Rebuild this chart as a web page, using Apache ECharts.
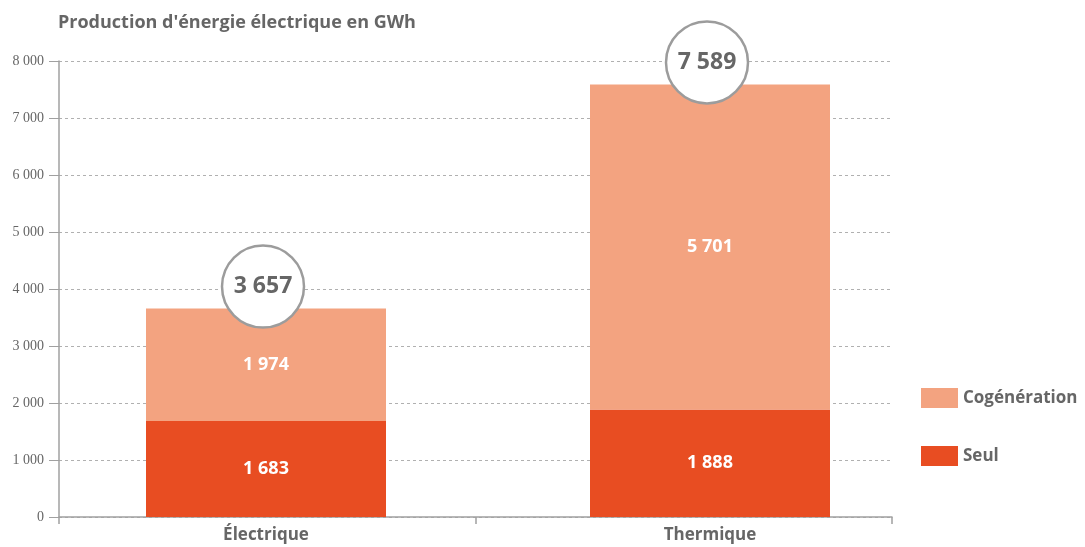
<!DOCTYPE html>
<html>
<head>
<meta charset="utf-8">
<script src="https://cdn.jsdelivr.net/npm/echarts@6/dist/echarts.min.js"></script>
<style>
  html,body{margin:0;padding:0;background:#fff;}
  #main{width:1085px;height:547px;}
</style>
</head>
<body>
<div id="main"></div>
<script>
// données
var categories = ['Électrique', 'Thermique'];
var seul = [1683, 1888];
var cogeneration = [1974, 5701];
var totals = [3657, 7589];
var yTicks = [0, 1000, 2000, 3000, 4000, 5000, 6000, 7000, 8000];

var grey = '#666666';
var font = 'Open Sans';

// format "1 683"
function fmt(n){
  return String(n).replace(/\B(?=(\d{3})+(?!\d))/g, ' ');
}

var myChart = echarts.init(document.getElementById('main'));

var option = {
  animation: false,
  textStyle: { fontFamily: font },
  title: {
    text: "Production d'énergie électrique en GWh",
    left: 53,
    top: 9,
    textStyle: { color: grey, fontSize: 18, fontWeight: 'bold', fontFamily: font }
  },
  legend: {
    data: ['Cogénération', 'Seul'],
    orient: 'vertical',
    left: 916,
    top: 383,
    itemWidth: 37,
    itemHeight: 20,
    itemGap: 38,
    icon: 'rect',
    textStyle: { color: grey, fontSize: 17, fontWeight: 'bold', fontFamily: font }
  },
  grid: [
    // grille des barres
    { left: 44, right: 153, top: 61, bottom: 30 },
    // grille des axes visibles
    { left: 59, right: 193, top: 61, bottom: 30 }
  ],
  xAxis: [
    {
      gridIndex: 0,
      type: 'category',
      data: categories,
      axisLine: { show: false },
      axisTick: { show: false },
      axisLabel: {
        margin: 10,
        color: grey,
        fontSize: 17,
        fontWeight: 'bold',
        fontFamily: font
      }
    },
    {
      gridIndex: 1,
      type: 'category',
      data: ['', ''],
      axisLine: { lineStyle: { color: '#a0a0a0', width: 1.5 } },
      axisTick: { show: true, length: 7, lineStyle: { color: '#a0a0a0', width: 1.5 } },
      axisLabel: { show: false }
    }
  ],
  yAxis: [
    {
      gridIndex: 0,
      type: 'value',
      min: 0, max: 8000, interval: 1000,
      show: false
    },
    {
      gridIndex: 1,
      type: 'value',
      min: yTicks[0], max: yTicks[yTicks.length - 1], interval: 1000,
      axisLine: { show: true, lineStyle: { color: '#a0a0a0', width: 1.5 } },
      axisTick: { show: true, length: 10, lineStyle: { color: '#a0a0a0', width: 1 } },
      axisLabel: {
        margin: 15,
        color: grey,
        fontSize: 14,
        fontFamily: 'Liberation Sans Narrow',
        formatter: function(v){ return fmt(v); }
      },
      splitLine: { show: true, lineStyle: { color: '#b0b0b0', type: [3, 3], width: 1 } }
    }
  ],
  series: [
    {
      name: 'Seul',
      type: 'bar',
      stack: 'total',
      xAxisIndex: 0, yAxisIndex: 0,
      barWidth: 240,
      itemStyle: { color: '#E84D22' },
      label: {
        show: true, position: 'inside',
        color: '#fff', fontSize: 18, fontWeight: 'bold', fontFamily: font,
        formatter: function(p){ return fmt(p.value); }
      },
      data: seul
    },
    {
      name: 'Cogénération',
      type: 'bar',
      stack: 'total',
      xAxisIndex: 0, yAxisIndex: 0,
      barWidth: 240,
      itemStyle: { color: '#F3A380' },
      label: {
        show: true, position: 'inside',
        color: '#fff', fontSize: 18, fontWeight: 'bold', fontFamily: font,
        formatter: function(p){ return fmt(p.value); }
      },
      data: cogeneration
    },
    {
      // cercles des totaux
      name: 'Total',
      type: 'scatter',
      xAxisIndex: 0, yAxisIndex: 0,
      symbol: 'circle',
      symbolSize: 82,
      symbolOffset: [-3, -22],
      z: 10,
      itemStyle: { color: '#fff', opacity: 1, borderColor: '#9c9c9c', borderWidth: 2.5 },
      label: {
        show: true, position: 'inside',
        color: grey, fontSize: 23, fontWeight: 'bold', fontFamily: font,
        formatter: function(p){ return fmt(p.value); }
      },
      data: totals
    }
  ]
};

myChart.setOption(option);
</script>
</body>
</html>
